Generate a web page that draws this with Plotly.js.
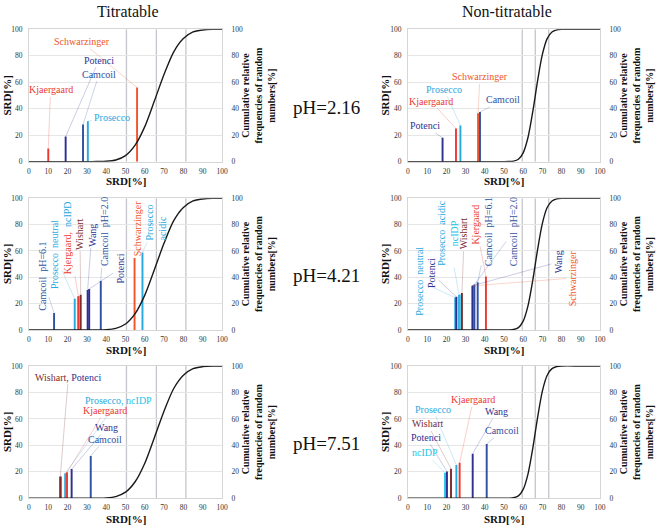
<!DOCTYPE html>
<html>
<head>
<meta charset="utf-8">
<script src="https://cdn.plot.ly/plotly-3.0.1.min.js"></script>
<style>
body { margin: 0; background: #fff; }
#chart { width: 657px; height: 526px; }
</style>
</head>
<body>
<div id="chart"></div>
<script>
'use strict'

// cumulative relative frequencies of random numbers
var titrCurveX = [0, 5, 10, 15, 20, 25, 30, 35, 40, 45, 50, 55, 60, 65, 70, 75, 80, 85, 90, 95, 100];
var titrCurveY = [0, 0, 0, 0, 0, 0, 0, 0.1, 0.3, 1.3, 4.6, 12.5, 26.5, 46, 66, 83, 93, 98, 99.5, 100, 100];
var nonTitrCurveX = [0, 10, 20, 30, 40, 50, 52.5, 55, 57.5, 60, 62.5, 65, 67.5, 70, 72.5, 75, 77.5, 80, 90, 100];
var nonTitrCurveY = [0, 0, 0, 0, 0, 0, 0.1, 0.4, 1.8, 6.7, 18.3, 37.8, 61, 81, 93, 98, 99.6, 100, 100, 100];

// grey vertical marks (5%, 50%, 95%)
var titrMarks = [50.5, 66, 81.3];
var nonTitrMarks = [59.5, 66.3, 73.3];

// SRD[%] per method
var t216Methods = ['Kjaergaard', 'Potenci', 'Camcoil', 'Prosecco', 'Schwarzinger'];
var t216Srd = [10, 19, 28, 30.5, 56];
var n216Methods = ['Potenci', 'Kjaergaard', 'Prosecco', 'Schwarzinger', 'Camcoil'];
var n216Srd = [18, 25, 27.3, 36.5, 37.5];

var t421Methods = ['Camcoil pH=6.1', 'Prosecco neutral', 'ncIDP', 'Kjergaard', 'Wishart', 'Wang', 'Potenci', 'Camcoil pH=2.0', 'Schwarzinger', 'Prosecco acidic'];
var t421Srd = [13, 23.7, 25.6, 25.6, 26.8, 30.4, 31.2, 37.2, 54.7, 58.8];
var n421Methods = ['Prosecco neutral', 'Potenci', 'Prosecco acidic', 'ncIDP', 'Wishart', 'Schwarzinger', 'Wang', 'Camcoil pH=2.0', 'Camcoil pH=6.1', 'Kjergaard'];
var n421Srd = [24.6, 25.2, 26.6, 27, 28.1, 33.5, 33.7, 34.6, 36.3, 40.6];

var t751Methods = ['Potenci', 'Wishart', 'ncIDP', 'Prosecco', 'Kjaergaard', 'Wang', 'Camcoil'];
var t751Srd = [16.4, 16.2, 19, 18.8, 19.7, 22.1, 32];
var n751Methods = ['ncIDP', 'Potenci', 'Wishart', 'Prosecco', 'Kjaergaard', 'Wang', 'Camcoil'];
var n751Srd = [19.3, 20.3, 22.4, 25.2, 26.9, 33.7, 41];

var phLabels = ['pH=2.16', 'pH=4.21', 'pH=7.51'];
var colTitles = ['Titratable', 'Non-titratable'];
var xTicks = [0, 10, 20, 30, 40, 50, 60, 70, 80, 90, 100];
var yTicks = [0, 20, 40, 60, 80, 100];

var SERIF = '"Liberation Serif", "Times New Roman", serif';

var methodColor = {
    'Kjaergaard': '#ec3a30', 'Kjergaard': '#ec3a30',
    'Schwarzinger': '#f0552b',
    'Potenci': '#2e3192', 'Wang': '#2e3192',
    'Camcoil': '#3050a0', 'Camcoil pH=6.1': '#3050a0', 'Camcoil pH=2.0': '#3050a0',
    'Prosecco': '#29a9e1', 'Prosecco neutral': '#29a9e1', 'Prosecco acidic': '#29a9e1',
    'ncIDP': '#22c4e6',
    'Wishart': '#7d2c2c'
};

function sp(txt, c) {
    return '<span style="color:' + c + '">' + txt + '</span>';
}

// label: [text, method it points at, label x, label y, vertical, align]
var panels = [
    {methods: t216Methods, srd: t216Srd, col: 0, row: 0, labels: [
        ['Schwarzinger', 'Schwarzinger', 27.3, 90.6],
        ['Potenci', 'Potenci', 36.3, 76.8],
        ['Camcoil', 'Camcoil', 36.3, 66.2],
        ['Kjaergaard', 'Kjaergaard', 11.2, 54.2],
        ['Prosecco', 'Prosecco', 42.8, 33.5]
    ]},
    {methods: n216Methods, srd: n216Srd, col: 1, row: 0, labels: [
        ['Schwarzinger', 'Schwarzinger', 37.5, 64.2],
        ['Prosecco', 'Prosecco', 18.8, 54.7],
        ['Kjaergaard', 'Kjaergaard', 11.8, 45.8],
        ['Camcoil', 'Camcoil', 49.6, 46.6],
        ['Potenci', 'Potenci', 8.9, 27]
    ]},
    {methods: t421Methods, srd: t421Srd, col: 0, row: 1, labels: [
        ['Camcoil  pH=6.1', 'Camcoil pH=6.1', 6.6, 41, true],
        ['Prosecco  neutral', 'Prosecco neutral', 13.5, 57, true],
        ['Kjergaard,  ' + sp('ncIPD', methodColor['Prosecco']), 'Kjergaard', 20.4, 69.9, true],
        ['Wishart', 'Wishart', 26.4, 72.9, true],
        ['Wang', 'Wang', 32.5, 72.1, true],
        ['Camcoil  pH=2.0', 'Camcoil pH=2.0', 38.9, 74.4, true],
        ['Potenci', 'Potenci', 47.2, 46.7, true],
        ['Schwarzinger', 'Schwarzinger', 56.1, 77.4, true],
        ['Prosecco<br>acidic', 'Prosecco acidic', 65.8, 81.6, true, 'left']
    ]},
    {methods: n421Methods, srd: n421Srd, col: 1, row: 1, labels: [
        ['Prosecco  neutral', 'Prosecco neutral', 6.3, 36.7, true],
        ['Potenci', 'Potenci', 12.3, 42.9, true],
        ['Prosecco  acidic<br>' + sp('ncIDP', methodColor['ncIDP']), 'Prosecco acidic', 20.8, 73.7, true],
        ['Wishart', 'Wishart', 29.3, 72.9, true],
        ['Kjergaard', 'Kjergaard', 35.4, 80, true],
        ['Camcoil  pH=6.1', 'Camcoil pH=6.1', 41.8, 74.4, true],
        ['Camcoil  pH=2.0', 'Camcoil pH=2.0', 54.8, 74.4, true],
        ['Wang', 'Wang', 78.3, 51.6, true],
        ['Schwarzinger', 'Schwarzinger', 86.1, 39.5, true]
    ]},
    {methods: t751Methods, srd: t751Srd, col: 0, row: 2, labels: [
        ['Wishart, ' + sp('Potenci', methodColor['Potenci']), 'Wishart', 20.4, 91.5],
        ['Prosecco, ' + sp('ncIDP', methodColor['ncIDP']), 'Prosecco', 46.3, 73.8],
        ['Kjaergaard', 'Kjaergaard', 39.4, 66.2],
        ['Wang', 'Wang', 40.3, 53.4],
        ['Camcoil', 'Camcoil', 39.4, 44.6]
    ]},
    {methods: n751Methods, srd: n751Srd, col: 1, row: 2, labels: [
        ['Kjaergaard', 'Kjaergaard', 34, 74.3],
        ['Prosecco', 'Prosecco', 12.9, 67.3],
        ['Wang', 'Wang', 46.2, 65.5],
        ['Wishart', 'Wishart', 10.1, 56.2],
        ['Camcoil', 'Camcoil', 49.1, 51.1],
        ['Potenci', 'Potenci', 9.4, 46.1],
        ['ncIDP', 'ncIDP', 8.9, 34.5]
    ]}
];

var xDom = [[0.0441, 0.3379], [0.621, 0.9132]];
var yDom = [[0.6926, 0.9443], [0.3726, 0.623], [0.0527, 0.3042]];

function hexA(h, a) {
    var r = parseInt(h.substr(1, 2), 16), g = parseInt(h.substr(3, 2), 16), b = parseInt(h.substr(5, 2), 16);
    return 'rgba(' + r + ',' + g + ',' + b + ',' + a + ')';
}

// centred text on the paper, px measured from the top-left corner
function paperText(px, py, text, size, angle) {
    return {
        xref: 'paper', yref: 'paper', x: px / 657, y: 1 - py / 526,
        xanchor: 'center', yanchor: 'middle', showarrow: false,
        text: text, textangle: angle || 0,
        font: {family: SERIF, size: size, color: '#111'}
    };
}

var traces = [];
var shapes = [];
var annotations = [];
var layout = {
    width: 657,
    height: 526,
    margin: {l: 0, r: 0, t: 0, b: 0},
    paper_bgcolor: '#fff',
    plot_bgcolor: '#fff',
    showlegend: false,
    barmode: 'overlay',
    font: {family: SERIF}
};

var tickFont = {family: SERIF, size: 7.5, color: '#333'};

panels.forEach(function(p, i) {
    var n = i + 1;
    var sfx = n === 1 ? '' : String(n);
    var xa = 'x' + sfx, ya = 'y' + sfx, ya2 = 'y' + (n + 6);
    var curveX = p.col === 0 ? titrCurveX : nonTitrCurveX;
    var curveY = p.col === 0 ? titrCurveY : nonTitrCurveY;
    var marks = p.col === 0 ? titrMarks : nonTitrMarks;

    layout['xaxis' + sfx] = {
        domain: xDom[p.col], anchor: ya, range: [0, 100], tickvals: xTicks,
        showgrid: false, zeroline: false, showline: true, linecolor: '#d6d6d6', mirror: true,
        ticks: 'outside', ticklen: 2, tickcolor: 'rgba(0,0,0,0)', tickfont: tickFont, fixedrange: true
    };
    layout['yaxis' + sfx] = {
        domain: yDom[p.row], anchor: xa, range: [0, 100], tickvals: yTicks,
        showgrid: true, gridcolor: '#e6e6e6', zeroline: false, showline: true, linecolor: '#d6d6d6', mirror: true,
        ticks: 'outside', ticklen: 4, tickcolor: 'rgba(0,0,0,0)', tickfont: tickFont, fixedrange: true
    };
    layout['yaxis' + (n + 6)] = {
        overlaying: ya, side: 'right', anchor: xa, range: [0, 100], tickvals: yTicks,
        showgrid: false, zeroline: false, showline: false,
        ticks: 'outside', ticklen: 7, tickcolor: 'rgba(0,0,0,0)', tickfont: tickFont, fixedrange: true
    };

    marks.forEach(function(v) {
        shapes.push({type: 'line', xref: xa, yref: ya, x0: v, x1: v, y0: 0, y1: 100,
            line: {color: '#c4c6cc', width: 1.3}, layer: 'below'});
    });

    traces.push({
        type: 'bar', x: p.srd, y: p.srd, width: 1.0, xaxis: xa, yaxis: ya,
        marker: {color: p.methods.map(function(m) { return methodColor[m]; }), line: {width: 0}},
        hoverinfo: 'skip'
    });
    traces.push({
        type: 'scatter', mode: 'lines', x: curveX, y: curveY, xaxis: xa, yaxis: ya2,
        line: {color: '#1a1a1a', width: 1.4, shape: 'spline', smoothing: 0.8},
        hoverinfo: 'skip'
    });

    p.labels.forEach(function(l) {
        var k = p.methods.indexOf(l[1]);
        var c = methodColor[l[1]];
        annotations.push({
            xref: xa, yref: ya, axref: xa, ayref: ya,
            x: p.srd[k], y: p.srd[k], ax: l[2], ay: l[3],
            text: l[0], showarrow: true, arrowhead: 0, arrowwidth: 0.8, standoff: 0,
            arrowcolor: hexA(c, 0.3), textangle: l[4] ? -90 : 0, align: l[5] || 'center',
            font: {family: SERIF, size: 10, color: c}
        });
    });

    // axis titles, in pixels
    var pxMid = (p.col === 0 ? 125.5 : 504);
    var pyMid = [95.5, 264, 432][p.row];
    var pyBottom = [181, 350, 519][p.row];
    annotations.push(paperText(pxMid, pyBottom, '<b>SRD[%]</b>', 11));
    annotations.push(paperText(p.col === 0 ? 7 : 385, pyMid, '<b>SRD[%]</b>', 11, -90));
    annotations.push(paperText(p.col === 0 ? 258 : 636, pyMid,
        '<b>Cumulative relative<br>frequencies of random<br>numbers[%]</b>', 10, -90));
});

phLabels.forEach(function(t, r) {
    annotations.push(paperText(326, [108, 275, 443][r], t, 19));
});

colTitles.forEach(function(t, c) {
    annotations.push(paperText(c === 0 ? 128 : 507, 11, t, 16));
});

layout.shapes = shapes;
layout.annotations = annotations;

Plotly.newPlot('chart', traces, layout, {staticPlot: true, displayModeBar: false});
</script>
</body>
</html>
